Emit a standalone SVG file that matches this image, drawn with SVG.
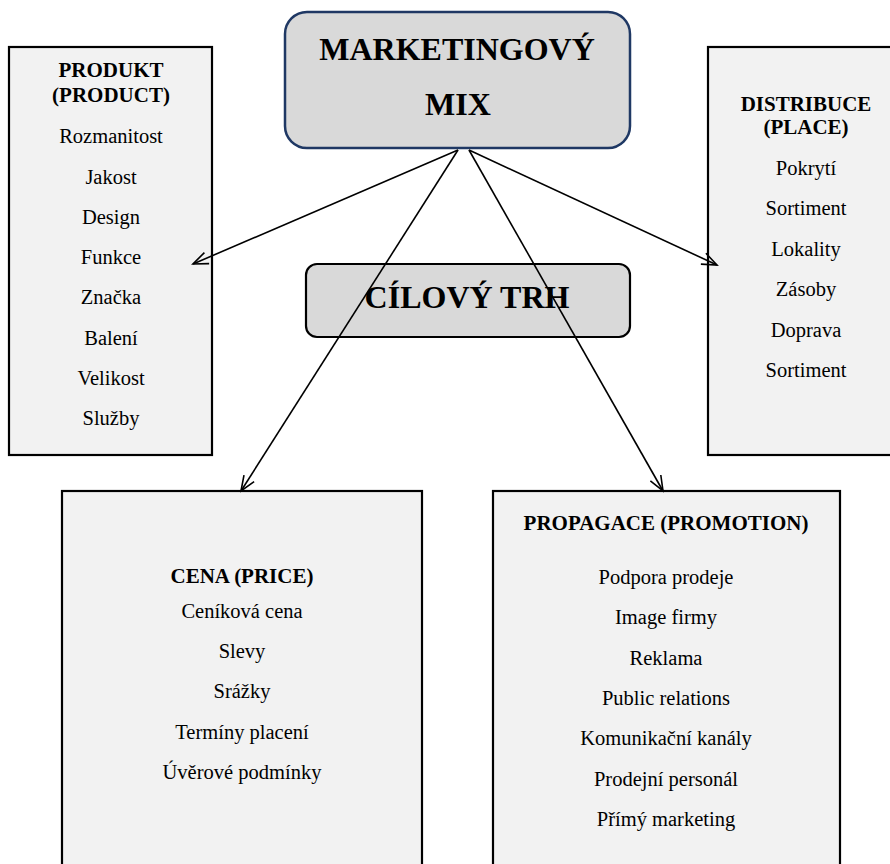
<svg xmlns="http://www.w3.org/2000/svg" width="890" height="864" viewBox="0 0 890 864">
<defs>
<marker id="arr" markerUnits="userSpaceOnUse" markerWidth="18" markerHeight="14" refX="16" refY="7" orient="auto">
<path d="M1,1 L16,7 L1,13" fill="none" stroke="#000" stroke-width="1.6"/>
</marker>
<style>
text{font-family:"Liberation Serif","Times New Roman",serif;fill:#000;text-anchor:middle}
.h{font-size:21px;font-weight:bold}
.t{font-size:20.5px}
.big{font-size:32px;font-weight:bold}
.box{fill:#F2F2F2;stroke:#000;stroke-width:2.2}
.edge{fill:none;stroke:#000;stroke-width:1.6;marker-end:url(#arr)}
</style>
</defs>
<rect width="890" height="864" fill="#fff"/>
<g id="produkt">
<rect class="box" x="9" y="47" width="203" height="408"/>
<text class="h" x="111" y="77">PRODUKT</text>
<text class="h" x="111" y="102">(PRODUCT)</text>
<text class="t" x="111" y="143">Rozmanitost</text>
<text class="t" x="111" y="184">Jakost</text>
<text class="t" x="111" y="224">Design</text>
<text class="t" x="111" y="264">Funkce</text>
<text class="t" x="111" y="304">Značka</text>
<text class="t" x="111" y="345">Balení</text>
<text class="t" x="111" y="385">Velikost</text>
<text class="t" x="111" y="425">Služby</text>
</g>
<g id="distribuce">
<rect class="box" x="708" y="47" width="200" height="408"/>
<text class="h" x="806" y="111">DISTRIBUCE</text>
<text class="h" x="806" y="134">(PLACE)</text>
<text class="t" x="806" y="175">Pokrytí</text>
<text class="t" x="806" y="215">Sortiment</text>
<text class="t" x="806" y="256">Lokality</text>
<text class="t" x="806" y="296">Zásoby</text>
<text class="t" x="806" y="337">Doprava</text>
<text class="t" x="806" y="377">Sortiment</text>
</g>
<g id="cena">
<rect class="box" x="62" y="491" width="360" height="390"/>
<text class="h" x="242" y="583">CENA (PRICE)</text>
<text class="t" x="242" y="618">Ceníková cena</text>
<text class="t" x="242" y="658">Slevy</text>
<text class="t" x="242" y="698">Srážky</text>
<text class="t" x="242" y="739">Termíny placení</text>
<text class="t" x="242" y="779">Úvěrové podmínky</text>
</g>
<g id="propagace">
<rect class="box" x="493" y="491" width="347" height="390"/>
<text class="h" x="666" y="530">PROPAGACE (PROMOTION)</text>
<text class="t" x="666" y="584">Podpora prodeje</text>
<text class="t" x="666" y="624">Image firmy</text>
<text class="t" x="666" y="665">Reklama</text>
<text class="t" x="666" y="705">Public relations</text>
<text class="t" x="666" y="745">Komunikační kanály</text>
<text class="t" x="666" y="786">Prodejní personál</text>
<text class="t" x="666" y="826">Přímý marketing</text>
</g>
<g id="marketingovy-mix">
<rect x="285" y="12" width="345" height="136" rx="22" ry="22" fill="#D9D9D9" stroke="#1F3864" stroke-width="2.5"/>
<text class="big" x="457" y="60">MARKETINGOVÝ</text>
<text class="big" x="458" y="115">MIX</text>
</g>
<g id="cilovy-trh">
<rect x="306" y="264" width="324" height="73" rx="11" ry="11" fill="#D9D9D9" stroke="#000" stroke-width="2.2"/>
<text class="big" x="467" y="308">CÍLOVÝ TRH</text>
</g>
<g id="connectors">
<line class="edge" x1="458" y1="150" x2="193" y2="264"/>
<line class="edge" x1="469" y1="150" x2="717" y2="265"/>
<line class="edge" x1="458" y1="150" x2="241" y2="491"/>
<line class="edge" x1="469" y1="150" x2="663" y2="491"/>
</g>
</svg>
